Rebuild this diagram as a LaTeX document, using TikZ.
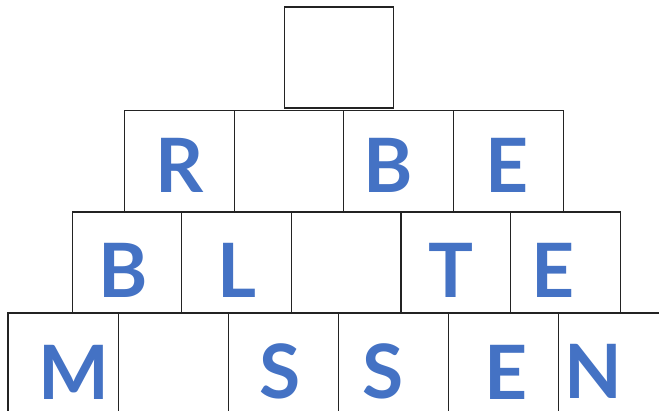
\documentclass[tikz,border=0pt]{standalone}
\usepackage{fontspec}
\setmainfont{Lato}
\definecolor{LetterBlue}{RGB}{68,114,196}
\definecolor{TileLine}{RGB}{35,35,35}
\tikzset{
  tile/.style={draw=TileLine,line width=1.1pt,minimum width=109.6pt,
    minimum height=101pt,inner sep=0pt},
  letter/.style={anchor=base,inner sep=0pt,text=LetterBlue,
    font=\fontsize{75}{75}\selectfont\bfseries}
}
\begin{document}
\begin{tikzpicture}[x=1pt,y=-1pt]
  \useasboundingbox (0,0) rectangle (659,411);
  \clip (0,0) rectangle (659,411);
  % tiles
  \node[tile,minimum width=109pt] (top) at (339,57.5) {};
  \foreach \i in {0,...,3}
    \node[tile] (row2-\i) at (179.5+109.6*\i,161) {};
  \foreach \i in {0,...,4}
    \node[tile] (row3-\i) at (127+109.6*\i,262.5) {};
  \foreach \i in {0,...,5}
    \node[tile,minimum width=110.1pt] (row4-\i) at (63+110.1*\i,363.5) {};
  % letters
  \foreach \l/\x/\y [count=\n] in {R/180/193,B/387.7/193,E/507.5/193,
      B/123/298,L/236.5/298,T/450.8/298,E/553/298,
      M/74.3/400,S/280/399,S/383.3/399,E/505.8/400,N/593/399}
    \node[letter] (letter-\n) at (\x,\y) {\l};
\end{tikzpicture}
\end{document}
